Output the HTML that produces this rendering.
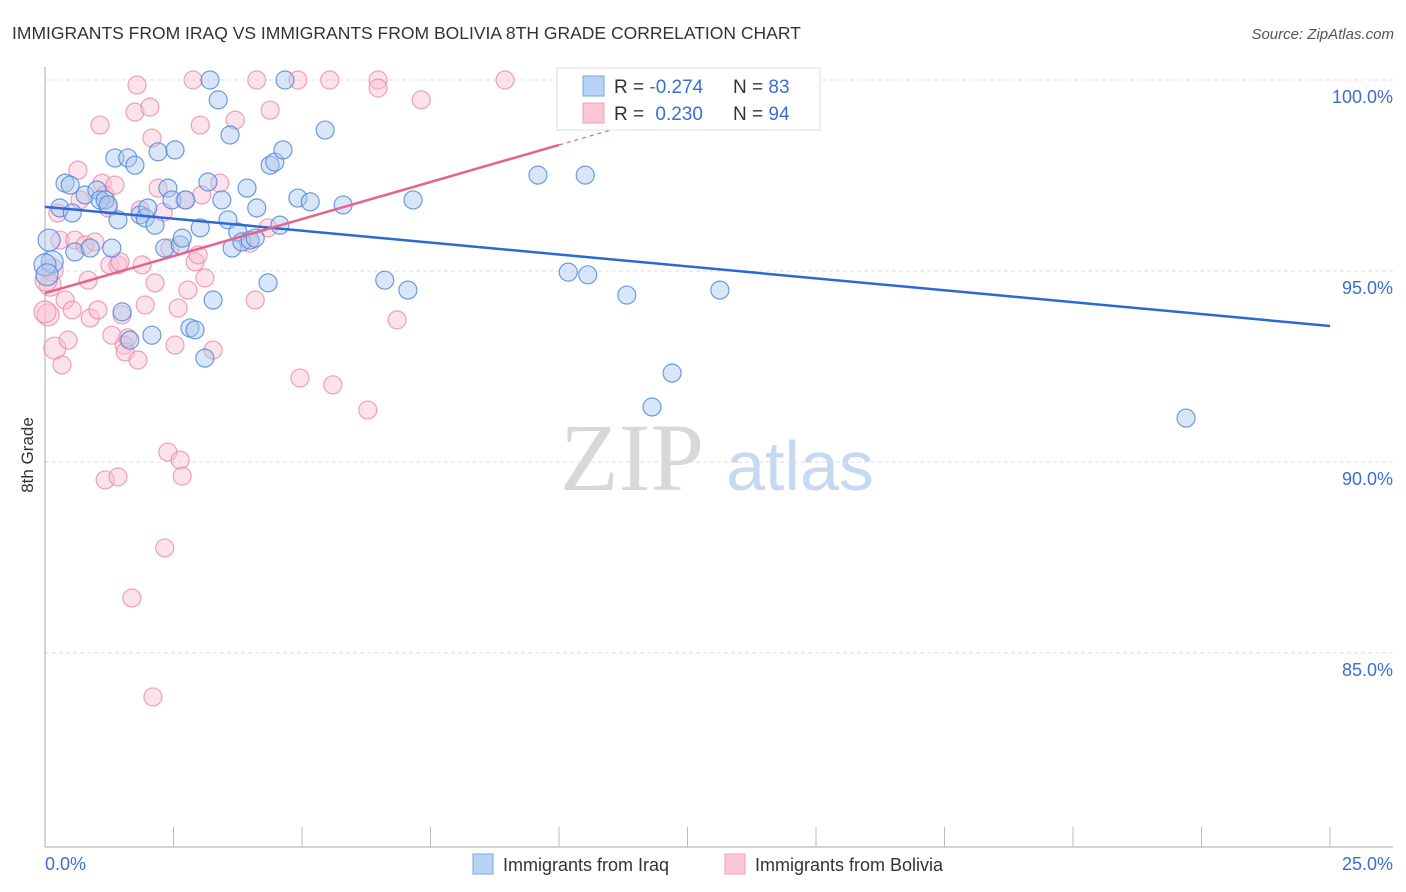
<!DOCTYPE html>
<html><head><meta charset="utf-8">
<style>
body{margin:0;background:#fff;font-family:"Liberation Sans",sans-serif;}
#wrap{position:relative;width:1406px;height:892px;overflow:hidden;}
</style></head>
<body>
<div id="wrap">
<svg id="svg" width="1406" height="892" xmlns="http://www.w3.org/2000/svg">
<text x="12" y="39" font-size="17.5" fill="#333">IMMIGRANTS FROM IRAQ VS IMMIGRANTS FROM BOLIVIA 8TH GRADE CORRELATION CHART</text>
<text x="1394" y="39" font-size="15" fill="#555" font-style="italic" text-anchor="end">Source: ZipAtlas.com</text>
<text x="33" y="455" font-size="17" fill="#333" text-anchor="middle" transform="rotate(-90 33 455)">8th Grade</text>
<g>
<text x="632" y="490" font-size="96" fill="#d8d8d8" font-family="Liberation Serif,serif" text-anchor="middle">ZIP</text>
<text x="800" y="490" font-size="70" fill="#c7d9f0" text-anchor="middle">atlas</text>
</g>
<g id="grid"></g>
<g id="axes"></g>
<g id="pts"></g>
<g id="lines"></g>
<g>
<rect x="557" y="68" width="263" height="62" fill="#fff" stroke="#ddd"/>
<rect x="583" y="76" width="21" height="20" fill="#b8d3f5" stroke="#7aa7e0"/>
<rect x="583" y="103" width="21" height="20" fill="#fcc8d8" stroke="#f0a0b8"/>
<text x="614" y="93" font-size="19" fill="#333">R = <tspan fill="#3a6fd0">-0.274</tspan></text>
<text x="733" y="93" font-size="19" fill="#333">N = <tspan fill="#3a6fd0">83</tspan></text>
<text x="614" y="120" font-size="19" fill="#333">R = <tspan fill="#3a6fd0" dx="6">0.230</tspan></text>
<text x="733" y="120" font-size="19" fill="#333">N = <tspan fill="#3a6fd0">94</tspan></text>
</g>
<g>
<rect x="473" y="854" width="20" height="20" fill="#b8d3f5" stroke="#7aa7e0"/>
<text x="503" y="871" font-size="18" fill="#333">Immigrants from Iraq</text>
<rect x="725" y="854" width="20" height="20" fill="#fcc8d8" stroke="#f0a0b8"/>
<text x="755" y="871" font-size="18" fill="#333">Immigrants from Bolivia</text>
</g>
</svg>
</div>
<script>
const yTicks=[100,95,90,85];
const yTickLabels=["100.0%","95.0%","90.0%","85.0%"];
const xTickLabels=["0.0%","25.0%"];
const iraqX=[0.08,0.14,0.29,0.39,0.49,0.53,0.58,0.78,0.88,1.01,1.07,1.17,1.23,1.30,1.36,1.42,1.50,1.61,1.65,1.75,1.85,1.95,2.00,2.08,2.14,2.20,2.33,2.39,2.47,2.53,2.63,2.67,2.74,2.82,2.92,3.02,3.11,3.17,3.21,3.27,3.37,3.44,3.56,3.60,3.64,3.75,3.83,3.93,3.99,4.09,4.12,4.34,4.38,4.47,4.57,4.63,4.67,4.92,5.16,5.45,5.80,6.61,7.06,7.16,9.59,10.18,10.51,10.56,11.32,11.81,12.20,13.13,14.07,22.20,0,0.04];
const iraqY=[95.81,95.24,96.65,97.30,97.25,96.52,95.50,96.99,95.60,97.12,96.86,96.86,96.73,95.60,97.96,96.34,93.93,97.96,93.19,97.77,96.47,96.39,96.65,93.32,96.20,98.12,95.60,97.17,96.86,98.17,95.68,95.86,96.86,93.51,93.46,96.13,92.72,97.33,100,94.24,99.48,96.86,96.34,98.56,95.60,96.02,95.76,97.17,95.81,95.86,96.65,94.69,97.77,97.85,96.20,98.17,100,96.91,96.81,98.69,96.73,94.76,94.50,96.86,97.51,94.97,97.51,94.90,94.37,91.44,92.33,94.50,100,91.15,95.16,94.90];
const bolX=[0.06,0.10,0.14,0.19,0.25,0.29,0.33,0.39,0.45,0.53,0.58,0.64,0.68,0.78,0.84,0.88,0.97,1.03,1.07,1.11,1.17,1.23,1.26,1.30,1.36,1.42,1.46,1.50,1.54,1.56,1.61,1.75,1.79,1.81,1.85,1.89,1.95,2.04,2.08,2.14,2.20,2.30,2.33,2.39,2.43,2.53,2.59,2.63,2.67,2.72,2.78,2.88,2.92,2.98,3.02,3.05,3.11,3.27,3.40,3.70,3.99,4.09,4.12,4.38,4.34,4.92,4.96,5.54,5.60,6.28,6.48,6.48,6.85,7.32,8.95,1.17,1.42,1.69,2.10,0,0.02];
const bolY=[93.85,94.63,95.03,92.98,96.52,95.81,92.54,94.24,93.19,93.98,95.81,97.64,96.86,95.68,94.76,93.77,95.76,93.98,98.82,97.30,96.99,96.65,95.16,93.32,97.25,95.16,95.24,93.85,93.06,92.88,93.25,99.16,99.87,92.67,96.60,95.16,94.11,99.29,98.48,94.69,97.17,96.54,87.75,90.26,95.60,93.06,94.03,90.05,89.63,96.86,94.50,100,95.24,95.42,98.82,96.99,94.82,92.93,97.30,98.95,95.73,94.24,100,99.21,96.13,100,92.20,100,92.02,91.36,100,99.79,93.72,99.48,100,89.53,89.61,86.44,83.85,93.93,94.76];
const iraqTrend=[96.68,93.56];
const bolTrend=[94.42,98.30];
const NS='http://www.w3.org/2000/svg';
const X0=45,X1=1330,Y100=80,PX5=191;
function sx(v){return X0+(v/25)*(X1-X0);}
function sy(v){return Y100+(100-v)/5*PX5;}
function mk(tag,attrs,parent){const e=document.createElementNS(NS,tag);for(const k in attrs)e.setAttribute(k,attrs[k]);parent.appendChild(e);return e;}
const grid=document.getElementById('grid'),axes=document.getElementById('axes'),pts=document.getElementById('pts'),lines=document.getElementById('lines');
yTicks.forEach((t,i)=>{
  const l=mk('line',{x1:X0,x2:1393,y1:sy(t),y2:sy(t),stroke:'#ddd','stroke-dasharray':'4,3'},grid);
  
  
  const tx=mk('text',{x:1393,y:sy(t)+23,'font-size':18,fill:'#3a6fd0','text-anchor':'end'},grid);
  tx.textContent=yTickLabels[i];
  
  
});
const ya=mk('line',{x1:X0,x2:X0,y1:67,y2:847,stroke:'#aaa'},axes);


const xa=mk('line',{x1:X0,x2:1393,y1:847,y2:847,stroke:'#aaa'},axes);


for(let i=1;i<=10;i++){
  const v=i*2.5;
  const t=mk('line',{x1:sx(v),x2:sx(v),y1:827,y2:847,stroke:'#bbb'},axes);
  
  
}
[[0,'start',45],[25,'end',1393]].forEach((a,i)=>{
  const t=mk('text',{x:a[2],y:870,'font-size':18,fill:'#3a6fd0','text-anchor':a[1]},axes);
  t.textContent=xTickLabels[i];
  
  
});
function drawPts(xs,ys,fill,stroke,name){
  xs.forEach((x,i)=>{
    const r=x<0.2?11:9;
    const c=mk('circle',{cx:sx(x),cy:sy(ys[i]),r:r,fill:fill,'fill-opacity':0.45,stroke:stroke,'stroke-opacity':0.8,'stroke-width':1.2},pts);
    
    
  });
}
drawPts(bolX,bolY,'#f9bfd0','#ee8aa8','bolivia-point');
drawPts(iraqX,iraqY,'#aac8f0','#4a85d8','iraq-point');
const bl=mk('line',{x1:sx(0),y1:sy(iraqTrend[0]),x2:sx(25),y2:sy(iraqTrend[1]),stroke:'#2a6ad6','stroke-width':2.5},lines);


const slope=(bolTrend[1]-bolTrend[0])/10;
const pl=mk('line',{x1:sx(0),y1:sy(bolTrend[0]),x2:sx(10),y2:sy(bolTrend[1]),stroke:'#e8628f','stroke-width':2.5},lines);


const pd=mk('line',{x1:sx(10),y1:sy(bolTrend[1]),x2:sx(14),y2:sy(bolTrend[0]+slope*14),stroke:'#e8628f','stroke-width':1.2,'stroke-dasharray':'4,4'},lines);


</script>
</body></html>
